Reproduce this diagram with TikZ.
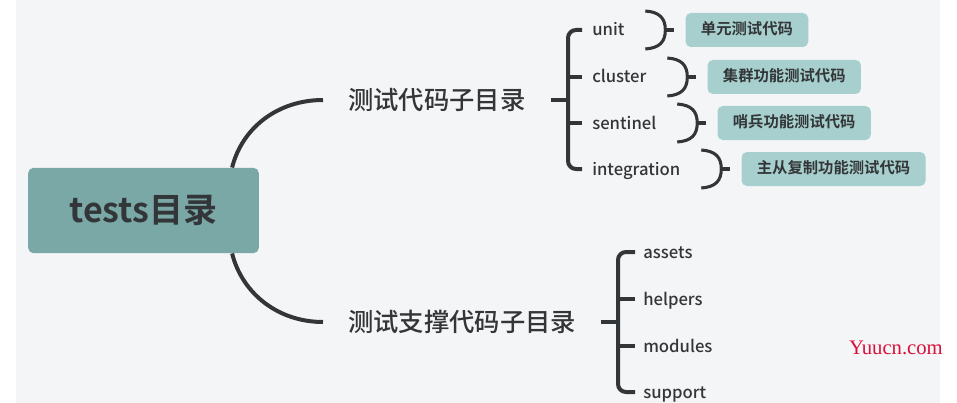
\documentclass[tikz,border=0pt]{standalone}
\usepackage{fontspec}
\setmainfont{Noto Sans CJK SC}[BoldFont={Noto Sans CJK SC Bold}]
\newfontfamily\medfont{Noto Sans CJK SC Medium}
\newfontfamily\markfont{Liberation Serif}
\usepackage{tikz}
\usetikzlibrary{positioning}

\definecolor{pagebg}{HTML}{F4F5F7}
\definecolor{rootfill}{HTML}{7AA8A6}
\definecolor{notefill}{HTML}{A7CFCD}
\definecolor{ink}{HTML}{333638}
\definecolor{markred}{HTML}{D8103A}

\begin{document}
\begin{tikzpicture}[
    x=0.75pt,y=-0.75pt,
    root/.style={fill=rootfill,rounded corners=4pt,minimum width=173pt,minimum height=64pt,
      text=ink,font=\bfseries\fontsize{25.5}{30}\selectfont},
    branch/.style={anchor=west,inner sep=0pt,text=ink,font=\medfont\fontsize{19}{23}\selectfont},
    leaf/.style={anchor=west,inner sep=0pt,text height=0.95em,text depth=0.05em,
      text=ink,font=\medfont\fontsize{12.5}{15}\selectfont},
    note/.style={fill=notefill,rounded corners=4pt,minimum height=25.5pt,inner xsep=11.5pt,
      inner ysep=0pt,text height=0.85em,text depth=0.15em,text=ink,font=\bfseries\fontsize{11.5}{14}\selectfont},
    link/.style={draw=ink,line width=3pt},
    brace/.style={draw=ink,line width=3pt,rounded corners=6pt},
    bracket/.style={draw=ink,line width=2.3pt},
    stamp/.style={text=markred,font=\markfont\fontsize{15.5}{18}\selectfont}
  ]
  \fill[white] (0,0) rectangle (957,403);
  \fill[pagebg] (16,0) rectangle (940,403);
  \useasboundingbox (0,0) rectangle (957,403);

  \node[root] (root) at (143.5,210.5) {tests目录};
  \node[branch] (codedir) at (348,100) {测试代码子目录};
  \node[branch] (supportdir) at (348,322) {测试支撑代码子目录};

  \draw[link] ([shift={(-27,0)}]root.north east) .. controls +(10,-40) and +(-45,0) .. ([shift={(-25,0)}]codedir.west);
  \draw[link] ([shift={(-27,0)}]root.south east) .. controls +(10,40) and +(-45,0) .. ([shift={(-25,0)}]supportdir.west);

  % test code folders
  \node[leaf] (unit) at (592,30) {unit};
  \node[leaf] (cluster) at (592,77) {cluster};
  \node[leaf] (sentinel) at (592,123) {sentinel};
  \node[leaf] (integration) at (592,169) {integration};

  \draw[link] ([shift={(25,0)}]codedir.east) -- ([shift={(42,0)}]codedir.east);
  \draw[brace] ([shift={(-10,0)}]unit.west) -- ([shift={(-24,0)}]unit.west)
    -- ([shift={(-24,0)}]integration.west) -- ([shift={(-10,0)}]integration.west);
  \draw[link] ([shift={(-24,0)}]cluster.west) -- ([shift={(-10,0)}]cluster.west);
  \draw[link] ([shift={(-24,0)}]sentinel.west) -- ([shift={(-10,0)}]sentinel.west);

  \node[note,right=45.5pt of unit] (unitnote) {单元测试代码};
  \node[note,right=45.5pt of cluster] (clusternote) {集群功能测试代码};
  \node[note,right=45.5pt of sentinel] (sentinelnote) {哨兵功能测试代码};
  \node[note,right=45.5pt of integration] (integrationnote) {主从复制功能测试代码};

  \draw[bracket] ([shift={(-40,-19)}]unitnote.west) .. controls +(14,1) and +(0,-12) .. ([shift={(-20,0)}]unitnote.west)
    .. controls +(0,12) and +(14,-1) .. ([shift={(-40,19)}]unitnote.west);
  \draw[bracket] ([shift={(-20,0)}]unitnote.west) -- ([shift={(-11,0)}]unitnote.west);
  \draw[bracket] ([shift={(-40,-19)}]clusternote.west) .. controls +(14,1) and +(0,-12) .. ([shift={(-20,0)}]clusternote.west)
    .. controls +(0,12) and +(14,-1) .. ([shift={(-40,19)}]clusternote.west);
  \draw[bracket] ([shift={(-20,0)}]clusternote.west) -- ([shift={(-11,0)}]clusternote.west);
  \draw[bracket] ([shift={(-40,-19)}]sentinelnote.west) .. controls +(14,1) and +(0,-12) .. ([shift={(-20,0)}]sentinelnote.west)
    .. controls +(0,12) and +(14,-1) .. ([shift={(-40,19)}]sentinelnote.west);
  \draw[bracket] ([shift={(-20,0)}]sentinelnote.west) -- ([shift={(-11,0)}]sentinelnote.west);
  \draw[bracket] ([shift={(-40,-19)}]integrationnote.west) .. controls +(14,1) and +(0,-12) .. ([shift={(-20,0)}]integrationnote.west)
    .. controls +(0,12) and +(14,-1) .. ([shift={(-40,19)}]integrationnote.west);
  \draw[bracket] ([shift={(-20,0)}]integrationnote.west) -- ([shift={(-11,0)}]integrationnote.west);

  % support folders
  \node[leaf] (assets) at (643,252) {assets};
  \node[leaf] (helpers) at (643,299) {helpers};
  \node[leaf] (modules) at (643,346) {modules};
  \node[leaf] (support) at (643,392) {support};

  \draw[link] ([shift={(24,0)}]supportdir.east) -- ([shift={(41,0)}]supportdir.east);
  \draw[brace] ([shift={(-8,0)}]assets.west) -- ([shift={(-25,0)}]assets.west)
    -- ([shift={(-25,0)}]support.west) -- ([shift={(-8,0)}]support.west);
  \draw[link] ([shift={(-25,0)}]helpers.west) -- ([shift={(-8,0)}]helpers.west);
  \draw[link] ([shift={(-25,0)}]modules.west) -- ([shift={(-8,0)}]modules.west);

  \node[stamp] (watermark) at (896,348) {Yuucn.com};
\end{tikzpicture}
\end{document}
